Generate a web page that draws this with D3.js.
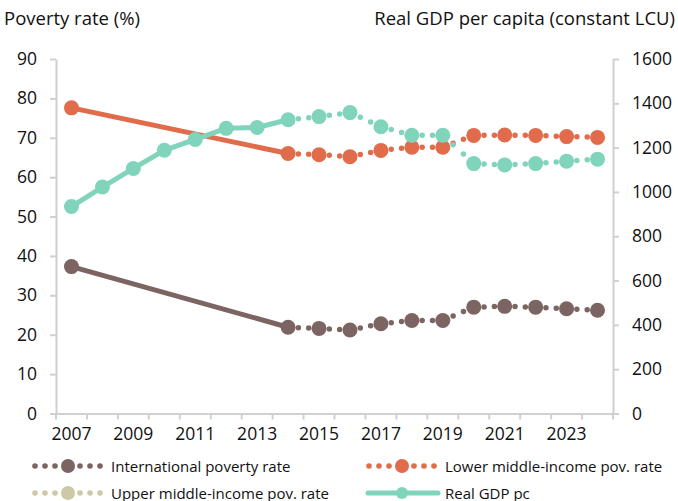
<!DOCTYPE html>
<html><head><meta charset="utf-8">
<script src="https://cdn.jsdelivr.net/npm/d3@7"></script>
<style>body{margin:0;background:#fff}svg{display:block}text{font-family:"Open Sans","Noto Sans",sans-serif;fill:#111}</style>
</head><body><svg id="c" width="678" height="501"></svg>
<script>
const years = [2007,2008,2009,2010,2011,2012,2013,2014,2015,2016,2017,2018,2019,2020,2021,2022,2023,2024];
const xLabels = ["2007","2009","2011","2013","2015","2017","2019","2021","2023"];
const intlPov = [37.3,null,null,null,null,null,null,21.9,21.6,21.2,22.8,23.6,23.6,27.0,27.2,27.0,26.6,26.2];
const lmicPov = [77.6,null,null,null,null,null,null,66.0,65.7,65.2,66.8,67.6,67.6,70.6,70.7,70.6,70.3,70.1];
const gdpPc  = [934,1022,1106,1188,1237,1287,1291,1326,1340,1358,1294,1256,1256,1128,1122,1128,1139,1148];
const leftTicks = [0,10,20,30,40,50,60,70,80,90];
const rightTicks = [0,200,400,600,800,1000,1200,1400,1600];
const projStart = 2014;

const C = {intl:"#7b6461", lmic:"#e06c4b", umic:"#cdc9a6", gdp:"#80d4bb", axis:"#d0d0d0"};
const svg = d3.select("#c");
const L = 56, R = 613, T = 59, B = 413.5;
const x = d3.scaleBand().domain(years).range([L, R]);
const xc = y => x(y) + x.bandwidth()/2;
const yL = d3.scaleLinear().domain([0,90]).range([B,T]);
const yR = d3.scaleLinear().domain([0,1600]).range([B,T]);

// axes
const gx = svg.append("g").attr("transform",`translate(0,${B})`)
  .call(d3.axisBottom(x).tickSize(0).tickFormat(d => xLabels.includes(String(d)) ? d : ""));
gx.select(".domain").attr("stroke",C.axis).attr("stroke-width",2);
gx.selectAll("text").attr("font-size",17.5).attr("dy","1.35em").style("fill","#111");
const boundaries = years.map(y=>x(y)).concat([R]);
gx.selectAll("line.sep").data(boundaries).enter().append("line").attr("class","sep")
  .attr("x1",d=>d).attr("x2",d=>d).attr("y1",0).attr("y2",6).attr("stroke",C.axis).attr("stroke-width",2);

const gl = svg.append("g").attr("transform",`translate(${L},0)`)
  .call(d3.axisLeft(yL).tickValues(leftTicks).tickSize(6).tickPadding(13).tickSizeOuter(0));
gl.select(".domain").attr("stroke",C.axis).attr("stroke-width",2);
gl.selectAll(".tick line").attr("stroke",C.axis).attr("stroke-width",2);
gl.selectAll("text").attr("font-size",17.5).style("fill","#111");

const gr = svg.append("g").attr("transform",`translate(${R},0)`)
  .call(d3.axisRight(yR).tickValues(rightTicks).tickFormat(d3.format("d")).tickSize(6).tickPadding(13).tickSizeOuter(0));
gr.select(".domain").attr("stroke",C.axis).attr("stroke-width",2);
gr.selectAll(".tick line").attr("stroke",C.axis).attr("stroke-width",2);
gr.selectAll("text").attr("font-size",17.5).style("fill","#111");

svg.append("text").attr("x",4).attr("y",25).attr("font-size",18.5).text("Poverty rate (%)");
svg.append("text").attr("x",675).attr("y",25).attr("font-size",18.5).attr("text-anchor","end").text("Real GDP per capita (constant LCU)");

function drawSeries(vals, scale, color){
  const pts = years.map((yr,i)=>({yr, v:vals[i]})).filter(d=>d.v!=null);
  const g = svg.append("g");
  for(let i=0;i<pts.length-1;i++){
    const a=pts[i], b=pts[i+1];
    const x1=xc(a.yr), y1=scale(a.v), x2=xc(b.yr), y2=scale(b.v);
    const solid = b.yr <= projStart;
    const ln = g.append("line").attr("x1",x1).attr("y1",y1).attr("x2",x2).attr("y2",y2)
      .attr("stroke",color).attr("stroke-linecap","round");
    if(solid){ ln.attr("stroke-width",5); }
    else {
      const len = Math.hypot(x2-x1,y2-y1);
      ln.attr("stroke-width",5.5).attr("stroke-dasharray",`0 ${len/3}`);
    }
  }
  g.selectAll("circle").data(pts).enter().append("circle")
    .attr("cx",d=>xc(d.yr)).attr("cy",d=>scale(d.v)).attr("r",7.5).attr("fill",color);
}
drawSeries(intlPov, yL, C.intl);
drawSeries(lmicPov, yL, C.lmic);
drawSeries(gdpPc, yR, C.gdp);

// legend
function legendDotted(cx, cy, color, label){
  const g = svg.append("g");
  [-35,-25,-15,10,20,30].forEach(o=>g.append("circle").attr("cx",cx+o).attr("cy",cy).attr("r",2.8).attr("fill",color));
  g.append("circle").attr("cx",cx-2).attr("cy",cy).attr("r",7).attr("fill",color);
  g.append("text").attr("x",cx+41).attr("y",cy+5.5).attr("font-size",15).text(label);
}
legendDotted(70, 466, C.intl, "International poverty rate");
legendDotted(404, 466, C.lmic, "Lower middle-income pov. rate");
legendDotted(70, 493, C.umic, "Upper middle-income pov. rate");
const lg = svg.append("g");
lg.append("line").attr("x1",368).attr("x2",438).attr("y1",493).attr("y2",493).attr("stroke",C.gdp).attr("stroke-width",5).attr("stroke-linecap","round");
lg.append("circle").attr("cx",402).attr("cy",493).attr("r",6).attr("fill",C.gdp);
lg.append("text").attr("x",445).attr("y",498.5).attr("font-size",15).text("Real GDP pc");
</script></body></html>
